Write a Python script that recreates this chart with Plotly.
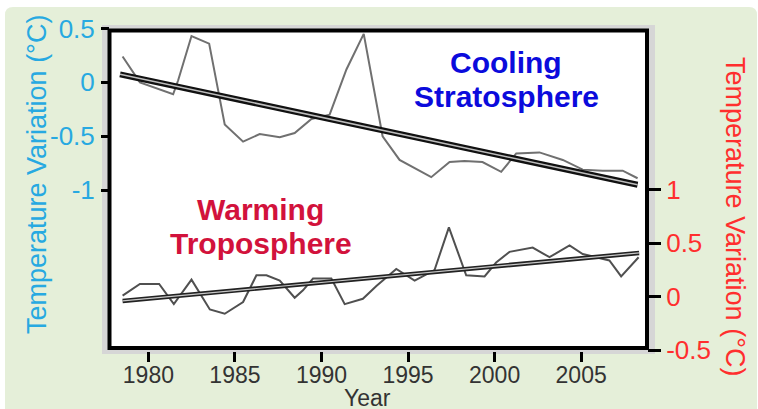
import plotly.graph_objects as go

# ---------------- data ----------------
strat_years = [1978.51, 1979.51, 1981.43, 1981.72, 1982.49, 1983.51, 1984.41, 1985.47,
               1986.43, 1987.59, 1988.45, 1989.42, 1990.47, 1991.44, 1992.44, 1993.53,
               1994.51, 1996.34, 1997.40, 1998.26, 1999.30, 2000.38, 2001.25, 2002.59,
               2003.94, 2005.09, 2006.24, 2007.40, 2008.26]
strat_temp = [0.24, 0.00, -0.11, 0.02, 0.43, 0.36, -0.39, -0.55,
              -0.48, -0.51, -0.47, -0.34, -0.30, 0.12, 0.45, -0.50,
              -0.72, -0.88, -0.74, -0.73, -0.74, -0.83, -0.66, -0.65,
              -0.72, -0.81, -0.82, -0.82, -0.89]
strat_trend_years = [1978.36, 2008.26]
strat_trend_temp = [0.075, -0.95]

tropo_years = [1978.51, 1979.51, 1980.62, 1981.47, 1982.49, 1983.16, 1983.55, 1984.41,
               1985.47, 1986.24, 1986.82, 1987.59, 1988.45, 1988.93, 1989.51, 1990.57,
               1991.34, 1992.39, 1993.17, 1994.32, 1995.38, 1996.53, 1997.36, 1998.36,
               1999.42, 2000.09, 2000.86, 2002.20, 2003.17, 2004.33, 2005.09, 2006.63,
               2007.31, 2008.32]
tropo_temp = [0.01, 0.12, 0.12, -0.07, 0.16, -0.01, -0.12, -0.16,
              -0.05, 0.20, 0.20, 0.15, -0.01, 0.06, 0.17, 0.17,
              -0.07, -0.02, 0.10, 0.26, 0.15, 0.25, 0.65, 0.20,
              0.19, 0.32, 0.42, 0.46, 0.37, 0.48, 0.40, 0.34,
              0.19, 0.37]
tropo_trend_years = [1978.51, 2008.35]
tropo_trend_temp = [-0.04, 0.41]

x_ticks = [1980, 1985, 1990, 1995, 2000, 2005]
x_ticktext = ["1980", "1985", "1990", "1995", "2000", "2005"]
left_ticks = [-1, -0.5, 0, 0.5]
left_ticktext = ["-1", "-0.5", "0", "0.5"]
right_ticks = [-0.5, 0, 0.5, 1]
right_ticktext = ["-0.5", "0", "0.5", "1"]

# ---------------- layout helpers ----------------
W, H = 758, 409
L, R, T, B = 110, 647, 28, 351   # plot area in pixels


def px(x):
    return (x - L) / (R - L)


def py(y):
    return (B - y) / (B - T)


CYAN = "#27a9e1"
RED = "#ff2e2e"
FONT = "Liberation Sans, Arial, sans-serif"

fig = go.Figure()

# stratosphere (left axis)
fig.add_trace(go.Scatter(x=strat_years, y=strat_temp, mode="lines",
                         line=dict(color="#707070", width=2), yaxis="y", showlegend=False))
fig.add_trace(go.Scatter(x=strat_trend_years, y=strat_trend_temp, mode="lines",
                         line=dict(color="#111111", width=6), yaxis="y", showlegend=False))
fig.add_trace(go.Scatter(x=strat_trend_years, y=strat_trend_temp, mode="lines",
                         line=dict(color="#bdbdbd", width=1.5), yaxis="y", showlegend=False))

# troposphere (right axis)
fig.add_trace(go.Scatter(x=tropo_years, y=tropo_temp, mode="lines",
                         line=dict(color="#505050", width=2), yaxis="y2", showlegend=False))
fig.add_trace(go.Scatter(x=tropo_trend_years, y=tropo_trend_temp, mode="lines",
                         line=dict(color="#222222", width=4.5), yaxis="y2", showlegend=False))
fig.add_trace(go.Scatter(x=tropo_trend_years, y=tropo_trend_temp, mode="lines",
                         line=dict(color="#c8c8c8", width=1.2), yaxis="y2", showlegend=False))

# background: rounded green panel
gx0, gx1, gy0, gy1 = px(5), px(757), py(7), py(409)
rx, ry = 8 / (R - L), 8 / (B - T)
panel_path = (f"M {gx0+rx},{gy0} L {gx1-rx},{gy0} Q {gx1},{gy0} {gx1},{gy0-ry} "
              f"L {gx1},{gy1} L {gx0},{gy1} L {gx0},{gy0-ry} Q {gx0},{gy0} {gx0+rx},{gy0} Z")

shapes = [
    dict(type="path", xref="paper", yref="paper", path=panel_path,
         fillcolor="#e5efd9", line=dict(width=0), layer="below"),
    dict(type="rect", xref="paper", yref="paper", x0=px(102), x1=px(655), y0=py(354), y1=py(25),
         fillcolor="#d6d6d6", line=dict(width=0), layer="below"),
    dict(type="rect", xref="paper", yref="paper", x0=px(109.5), x1=px(647), y0=py(348), y1=py(30.5),
         fillcolor="white", line=dict(color="black", width=4), layer="below"),
]

annotations = [
    dict(text="<b>Cooling</b>", x=px(506), y=py(62), xref="paper", yref="paper", showarrow=False,
         font=dict(family=FONT, size=30, color="#0b0bdc"), xanchor="center", yanchor="middle"),
    dict(text="<b>Stratosphere</b>", x=px(506), y=py(96), xref="paper", yref="paper", showarrow=False,
         font=dict(family=FONT, size=30, color="#0b0bdc"), xanchor="center", yanchor="middle"),
    dict(text="<b>Warming</b>", x=px(260), y=py(209), xref="paper", yref="paper", showarrow=False,
         font=dict(family=FONT, size=30, color="#d2123c"), xanchor="center", yanchor="middle"),
    dict(text="<b>Troposphere</b>", x=px(261), y=py(244), xref="paper", yref="paper", showarrow=False,
         font=dict(family=FONT, size=30, color="#d2123c"), xanchor="center", yanchor="middle"),
    dict(text="Temperature Variation (°C)", x=px(37), y=py(175), xref="paper", yref="paper",
         showarrow=False, textangle=-90, font=dict(family=FONT, size=27, color=CYAN),
         xanchor="center", yanchor="middle"),
    dict(text="Temperature Variation (°C)", x=px(735), y=py(216), xref="paper", yref="paper",
         showarrow=False, textangle=90, font=dict(family=FONT, size=27, color=RED),
         xanchor="center", yanchor="middle"),
    dict(text="Year", x=px(367), y=py(398), xref="paper", yref="paper", showarrow=False,
         font=dict(family=FONT, size=23, color="#333333"), xanchor="center", yanchor="middle"),
]

fig.update_layout(
    width=W, height=H,
    margin=dict(l=L, r=W - R, t=T, b=H - B, pad=0),
    paper_bgcolor="white",
    plot_bgcolor="rgba(0,0,0,0)",
    shapes=shapes,
    annotations=annotations,
    font=dict(family=FONT),
    xaxis=dict(range=[1977.782, 2008.804], tickvals=x_ticks, ticktext=x_ticktext,
               showgrid=False, zeroline=False, showline=False,
               ticks="outside", ticklen=10, tickwidth=3, tickcolor="black",
               ticklabelstandoff=-7,
               tickfont=dict(family=FONT, size=23, color="#333333")),
    yaxis=dict(range=[-2.494, 0.505], tickvals=left_ticks, ticktext=left_ticktext,
               showgrid=False, zeroline=False, showline=False,
               ticks="outside", ticklen=8, tickwidth=3, tickcolor="black",
               ticklabelstandoff=1,
               tickfont=dict(family=FONT, size=26, color=CYAN)),
    yaxis2=dict(range=[-0.509, 2.518], tickvals=right_ticks, ticktext=right_ticktext,
                overlaying="y", side="right",
                showgrid=False, zeroline=False, showline=False,
                ticks="outside", ticklen=13, tickwidth=3, tickcolor="black",
                tickfont=dict(family=FONT, size=26, color=RED)),
)

fig.write_html("out.html", config={"displayModeBar": False},
               post_script="document.body.style.margin='0';document.body.style.overflow='hidden';")
